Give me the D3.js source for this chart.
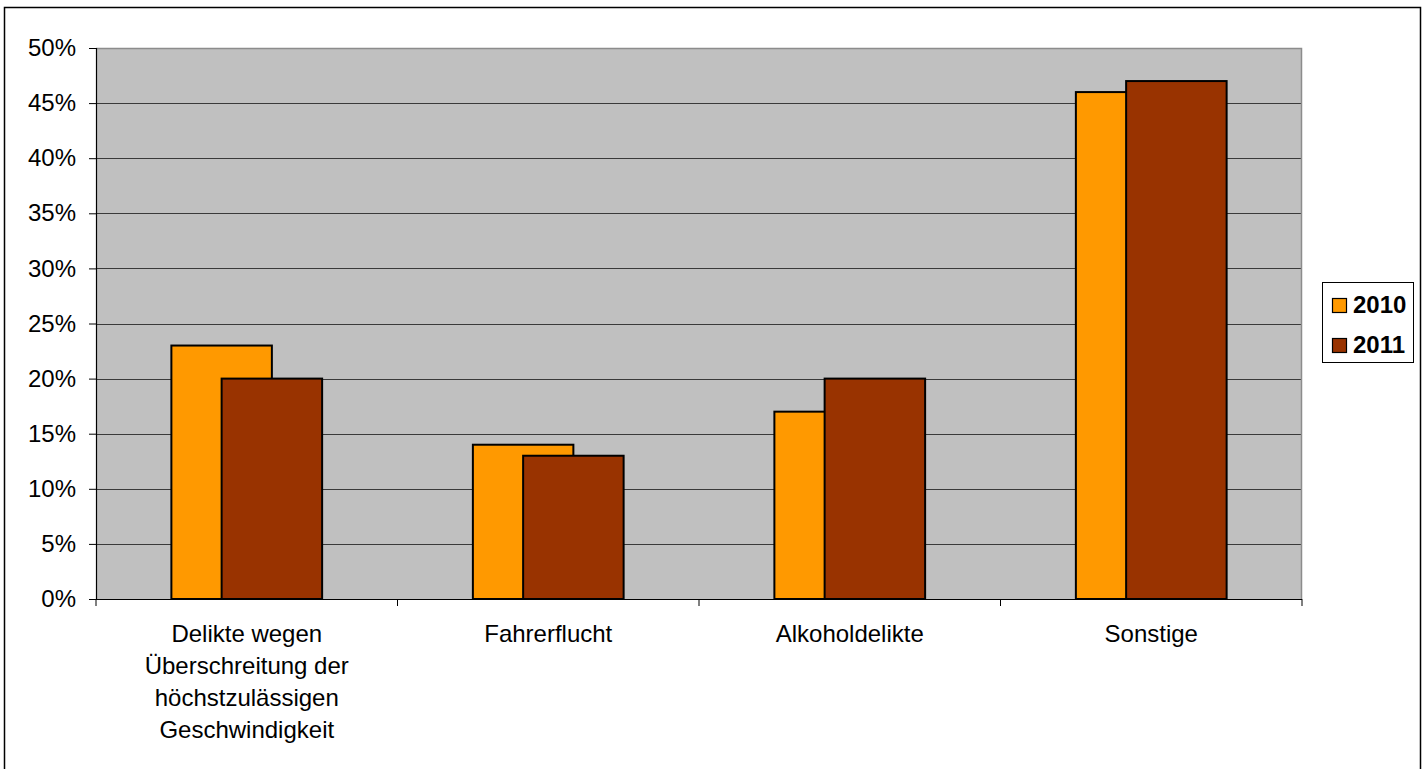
<!DOCTYPE html>
<html><head><meta charset="utf-8">
<script src="https://cdn.jsdelivr.net/npm/d3@7"></script>
<style>html,body{margin:0;padding:0;background:#fff;}svg{display:block;}</style>
</head><body>
<svg id="chart" width="1428" height="769"></svg>
<script>
const categories = [
  ["Delikte wegen", "Überschreitung der", "höchstzulässigen", "Geschwindigkeit"],
  ["Fahrerflucht"],
  ["Alkoholdelikte"],
  ["Sonstige"]
];
const seriesNames = ["2010", "2011"];
const values2010 = [23, 14, 17, 46];
const values2011 = [20, 13, 20, 47];
const yTicks = [0, 5, 10, 15, 20, 25, 30, 35, 40, 45, 50];
const colors = ["#FF9900", "#993300"];

const svg = d3.select("#chart");
const font = "'Liberation Sans', Arial, sans-serif";
const FS = 24;
const L = 96, R = 1302, T = 48, B = 599;

svg.append("rect").attr("x", 4.5).attr("y", 7.5).attr("width", 1416).attr("height", 800)
  .attr("fill", "#fff").attr("stroke", "#000").attr("stroke-width", 1.5);

const x = d3.scaleBand().domain(d3.range(categories.length)).range([L, R]).paddingInner(0).paddingOuter(0);
const y = d3.scaleLinear().domain([0, 50]).range([B, T]);

svg.append("rect").attr("x", L).attr("y", T).attr("width", R - L).attr("height", B - T)
  .attr("fill", "#C0C0C0");

// gridlines
svg.append("g").selectAll("line").data(yTicks.filter(d => d > 0 && d < 50)).join("line")
  .attr("x1", L).attr("x2", R).attr("y1", d => Math.round(y(d)) + 0.5).attr("y2", d => Math.round(y(d)) + 0.5)
  .attr("stroke", "#3a3a3a").attr("stroke-width", 1);

// plot border top/right
svg.append("path").attr("d", `M${L},${T + 0.5}H${R - 0.5}V${B}`).attr("fill", "none")
  .attr("stroke", "#8c8c8c").attr("stroke-width", 1.5);

// bars
const bw = x.bandwidth() / 3;
const series = [values2010, values2011];
series.forEach((vals, si) => {
  svg.append("g").selectAll("rect").data(vals).join("rect")
    .attr("x", (d, i) => x(i) + x.bandwidth() / 4 + si * bw / 2)
    .attr("y", d => y(d))
    .attr("width", bw)
    .attr("height", d => B - y(d))
    .attr("fill", colors[si]).attr("stroke", "#000").attr("stroke-width", 2);
});

// y axis
const yAxis = d3.axisLeft(y).tickValues(yTicks).tickFormat(d => d + "%").tickSize(7).tickPadding(13);
const gy = svg.append("g").attr("transform", `translate(${L},0)`).call(yAxis);
gy.select(".domain").attr("stroke", "#000").attr("stroke-width", 1.2);
gy.selectAll(".tick line").attr("stroke", "#000");
gy.selectAll("text").attr("font-family", font).attr("font-size", FS).attr("fill", "#000");

// x axis
const gx = svg.append("g").attr("transform", `translate(0,${B})`);
gx.append("line").attr("x1", L).attr("x2", R).attr("y1", 0.5).attr("y2", 0.5).attr("stroke", "#000").attr("stroke-width", 1.2);
gx.selectAll("line.t").data(d3.range(categories.length + 1)).join("line").attr("class", "t")
  .attr("x1", i => L + i * x.step()).attr("x2", i => L + i * x.step()).attr("y1", 0).attr("y2", 7)
  .attr("stroke", "#000");
categories.forEach((lines, i) => {
  const t = gx.append("text").attr("text-anchor", "middle").attr("font-family", font)
    .attr("font-size", FS).attr("fill", "#000");
  lines.forEach((ln, j) => {
    t.append("tspan").attr("x", x(i) + x.bandwidth() / 2).attr("y", 43 + j * 32).text(ln);
  });
});

// legend
const lg = svg.append("g");
lg.append("rect").attr("x", 1322.5).attr("y", 282.5).attr("width", 91).attr("height", 80)
  .attr("fill", "#fff").attr("stroke", "#000").attr("stroke-width", 1);
seriesNames.forEach((s, i) => {
  lg.append("rect").attr("x", 1332.5).attr("y", 298.5 + i * 40).attr("width", 14).attr("height", 14)
    .attr("fill", colors[i]).attr("stroke", "#000").attr("stroke-width", 1.2);
  lg.append("text").attr("x", 1353).attr("y", 312.5 + i * 40).attr("font-family", font)
    .attr("font-weight", "bold").attr("font-size", FS).attr("fill", "#000").text(s);
});
</script>
</body></html>
